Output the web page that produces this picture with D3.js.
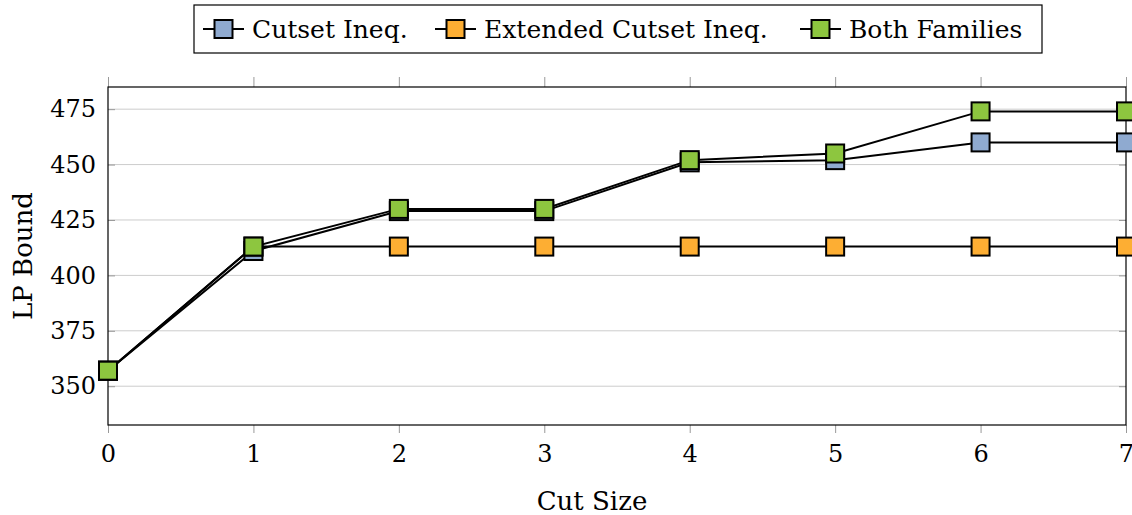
<!DOCTYPE html>
<html><head><meta charset="utf-8">
<script src="https://cdn.jsdelivr.net/npm/d3@7"></script>
<style>body{margin:0;background:#fff}svg{display:block}svg text{font-family:"DejaVu Serif","Liberation Serif",serif !important;fill:#000}</style>
</head><body>
<script>
const cutSizes = [0,1,2,3,4,5,6,7];
const cutsetIneq = [357,411,429,429,451,452,460,460];
const extendedCutsetIneq = [357,413,413,413,413,413,413,413];
const bothFamilies = [357,413,430,430,452,455,474,474];
const yTicks = [350,375,400,425,450,475];
const seriesNames = ["Cutset Ineq.","Extended Cutset Ineq.","Both Families"];
const seriesColors = ["#8faad0","#fdae33","#8dc63f"];
const seriesData = [cutsetIneq, extendedCutsetIneq, bothFamilies];

const W=1132,H=515;
const m={l:108,r:1126,t:87,b:425};
const svg=d3.select("body").append("svg").attr("width",W).attr("height",H)
  .attr("font-family","DejaVu Serif");
const x=d3.scaleLinear().domain([0,7]).range([m.l,m.r]);
const y=d3.scaleLinear().domain([332.5,485]).range([m.b,m.t]);

// grid
svg.append("g").selectAll("line").data(yTicks).join("line")
  .attr("x1",m.l).attr("x2",m.r).attr("y1",d=>y(d)).attr("y2",d=>y(d))
  .attr("stroke","#cccccc").attr("stroke-width",1);

// axes
const ax=svg.append("g").attr("transform",`translate(0,${m.b})`)
  .call(d3.axisBottom(x).tickValues(cutSizes).tickSize(8).tickPadding(12).tickFormat(d3.format("d")));
const axT=svg.append("g").attr("transform",`translate(0,${m.t})`)
  .call(d3.axisTop(x).tickValues(cutSizes).tickSize(10).tickFormat(""));
const ayL=svg.append("g").attr("transform",`translate(${m.l},0)`)
  .call(d3.axisRight(y).tickValues(yTicks).tickSize(7).tickFormat(""));
const ayR=svg.append("g").attr("transform",`translate(${m.r},0)`)
  .call(d3.axisLeft(y).tickValues(yTicks).tickSize(7).tickFormat(""));
const ayLab=svg.append("g").attr("transform",`translate(${m.l},0)`)
  .call(d3.axisLeft(y).tickValues(yTicks).tickSize(0).tickPadding(12));
[ax,axT,ayL,ayR,ayLab].forEach(g=>{g.select(".domain").remove();
  g.attr("font-family","DejaVu Serif");
  g.selectAll(".tick line").attr("stroke","#999").attr("stroke-width",1);});
ax.selectAll("text").attr("font-size",24);
ayLab.selectAll("text").attr("font-size",24);

svg.append("rect").attr("x",m.l).attr("y",m.t).attr("width",m.r-m.l).attr("height",m.b-m.t)
  .attr("fill","none").attr("stroke","#000").attr("stroke-width",1.2);

// series
const line=d3.line().x((d,i)=>x(cutSizes[i])).y(d=>y(d));
const ms=18;
seriesData.forEach((s,k)=>{
  svg.append("path").datum(s).attr("d",line).attr("fill","none").attr("stroke","#000").attr("stroke-width",2);
  svg.append("g").selectAll("rect").data(s).join("rect")
    .attr("x",(d,i)=>x(cutSizes[i])-ms/2).attr("y",d=>y(d)-ms/2)
    .attr("width",ms).attr("height",ms)
    .attr("fill",seriesColors[k]).attr("stroke","#000").attr("stroke-width",2);
});

// axis titles
svg.append("text").attr("x",592).attr("y",510).attr("text-anchor","middle")
  .attr("font-size",26).text("Cut Size");
svg.append("text").attr("transform",`translate(32,${(m.t+m.b)/2}) rotate(-90)`)
  .attr("text-anchor","middle").attr("font-size",26).text("LP Bound");

// legend
const lg=svg.append("g");
lg.append("rect").attr("x",194).attr("y",5).attr("width",848).attr("height",48)
  .attr("fill","#fff").attr("stroke","#000").attr("stroke-width",1.2);
const lx=[203,435,800];
seriesNames.forEach((n,k)=>{
  const g=lg.append("g").attr("transform",`translate(${lx[k]},29)`);
  g.append("line").attr("x1",0).attr("x2",41).attr("stroke","#000").attr("stroke-width",2);
  g.append("rect").attr("x",20.5-ms/2).attr("y",-ms/2).attr("width",ms).attr("height",ms)
    .attr("fill",seriesColors[k]).attr("stroke","#000").attr("stroke-width",2);
  g.append("text").attr("x",49).attr("y",9).attr("font-size",25).text(n);
});
</script>
</body></html>
